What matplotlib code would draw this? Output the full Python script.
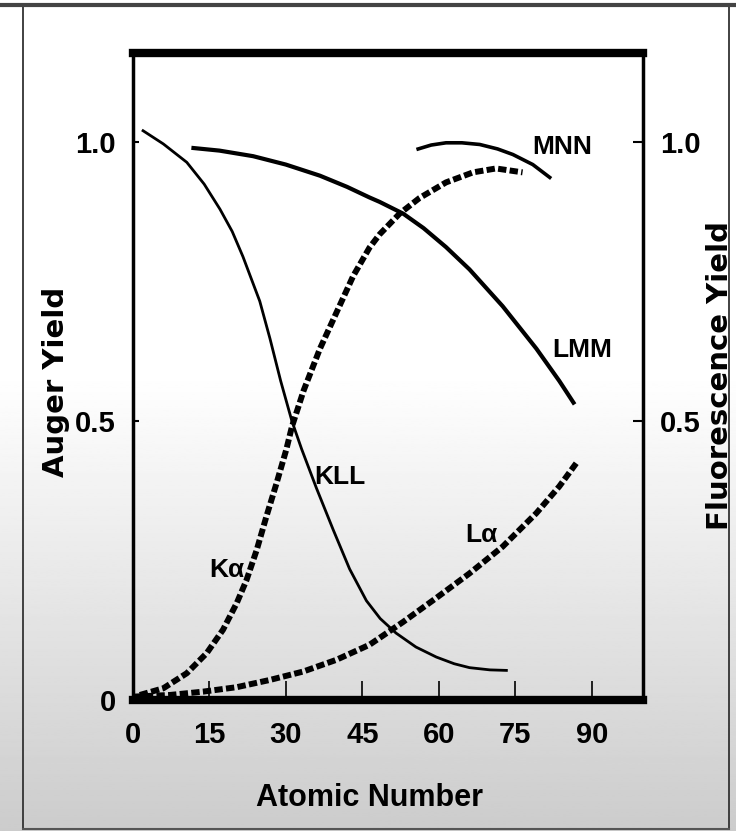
import numpy as np
import matplotlib
matplotlib.use("Agg")
import matplotlib.pyplot as plt
from matplotlib.lines import Line2D

#values, atomic number vs yield
kllX = [1.8, 6, 10.6, 14, 17.1, 19.5, 21.6, 24.9, 26.9, 29, 31.2, 33.1, 36.0, 39.3, 42.5, 45.8, 48.5, 51.6, 55.5, 59.5, 63, 66, 70, 73.5]
kllY = [1.022, 0.997, 0.964, 0.925, 0.880, 0.84, 0.795, 0.715, 0.648, 0.572, 0.50, 0.45, 0.38, 0.305, 0.235, 0.178, 0.146, 0.12, 0.095, 0.077, 0.065, 0.058, 0.054, 0.053]

lmmX = [11.5, 17, 23.6, 30, 36.7, 42, 46.4, 48.4, 53, 57, 61.4, 66, 72.5, 79.1, 83.6, 86.6]
lmmY = [0.990, 0.985, 0.975, 0.96, 0.940, 0.92, 0.901, 0.893, 0.872, 0.846, 0.812, 0.772, 0.706, 0.63, 0.572, 0.530]

mnnX = [55.6, 58.5, 61.4, 64.5, 68, 71.5, 74.5, 78.4, 82]
mnnY = [0.987, 0.995, 0.999, 0.999, 0.996, 0.988, 0.978, 0.960, 0.935]

kaX = [1.4, 6.0, 10.6, 14.5, 17.7, 20.4, 22.3, 24.3, 26.2, 28.2, 30.1, 31.2, 33.5, 36.7, 39.9, 43.2, 46.4, 48.4, 52.3, 56.2, 61.4, 66.7, 71.2, 76.4]
kaY = [0.009, 0.021, 0.048, 0.084, 0.126, 0.174, 0.215, 0.269, 0.329, 0.389, 0.449, 0.49, 0.555, 0.63, 0.694, 0.760, 0.811, 0.835, 0.872, 0.900, 0.928, 0.946, 0.953, 0.946]

laX = [0.1, 7.3, 13.8, 20.4, 26.9, 33.4, 39.9, 46.4, 53, 59.5, 66, 72.5, 79.1, 83.6, 87.2]
laY = [0.006, 0.009, 0.015, 0.023, 0.036, 0.051, 0.072, 0.099, 0.14, 0.183, 0.227, 0.275, 0.335, 0.383, 0.428]

xTicks = [0, 15, 30, 45, 60, 75, 90]
leftTicks = [0, 0.5, 1.0]
leftLabels = ["0", "0.5", "1.0"]
rightTicks = [0.5, 1.0]
rightLabels = ["0.5", "1.0"]

#curve names and where they sit
curveNames = ["MNN", "LMM", "KLL", "K\u03b1", "L\u03b1"]
nameX = [84.1, 88.1, 40.6, 18.5, 68.4]
nameY = [0.991, 0.628, 0.40, 0.233, 0.296]

narrow = ["Liberation Sans Narrow", "Liberation Sans", "DejaVu Sans"]

fig = plt.figure(figsize=(7.36, 8.31), dpi=100)

#gray gradient behind everything
bg = fig.add_axes([0, 0, 1, 1], zorder=-10)
rows = np.linspace(0, 1, 400)
shade = np.where(rows < 0.45, 1.0, 1.0 - (rows - 0.45) / 0.55 * 0.2)
bg.imshow(shade[:, None], aspect="auto", cmap="gray", vmin=0, vmax=1, extent=[0, 1, 0, 1])
bg.axis("off")

#outer frame of the picture
fig.add_artist(Line2D([23/736, 23/736], [1 - 829/831, 1 - 5/831], transform=fig.transFigure, color="#333333", lw=1.3))
fig.add_artist(Line2D([729/736, 729/736], [1 - 829/831, 1 - 5/831], transform=fig.transFigure, color="#333333", lw=1.3))
fig.add_artist(Line2D([23/736, 729/736], [1 - 829/831, 1 - 829/831], transform=fig.transFigure, color="#555555", lw=1.5))
fig.add_artist(Line2D([0, 1], [1 - 5/831, 1 - 5/831], transform=fig.transFigure, color="#444444", lw=3))

ax = fig.add_axes([132.7/736, 1 - 700/831, (643 - 132.7)/736, (700 - 53)/831])
ax.set_facecolor("none")
ax.set_xlim(0, 100)
ax.set_ylim(0, 1.16)

#auger curves are solid
ax.plot(kllX, kllY, color="black", lw=2.0, solid_capstyle="butt")
ax.plot(lmmX, lmmY, color="black", lw=3.0, solid_capstyle="butt")
ax.plot(mnnX, mnnY, color="black", lw=2.6, solid_capstyle="butt")

#fluorescence curves are thick dashes
ax.plot(kaX, kaY, color="black", lw=4.3, dashes=(1.4, 0.55), dash_capstyle="butt")
ax.plot(laX, laY, color="black", lw=4.3, dashes=(1.4, 0.55), dash_capstyle="butt")

for name, tx, ty in zip(curveNames, nameX, nameY):
    ax.text(tx, ty, name, ha="center", va="center", fontsize=19, family=narrow, fontweight="bold", color="black")

#spines, thick top and bottom
ax.spines["top"].set_linewidth(6)
ax.spines["bottom"].set_linewidth(6)
ax.spines["left"].set_linewidth(2.5)
ax.spines["right"].set_linewidth(2.5)

ax.set_xticks(xTicks)
ax.set_xticklabels([str(t) for t in xTicks], fontsize=21, family=narrow, fontweight="bold")
ax.tick_params(axis="x", direction="in", length=14, width=1.2, pad=15)
ax.set_yticks(leftTicks)
ax.set_yticklabels(leftLabels, fontsize=21, family=narrow, fontweight="bold")
ax.tick_params(axis="y", direction="in", length=4, width=1.5, pad=12)

ax.set_xlabel("Atomic Number", fontsize=22, family=narrow, fontweight="bold")
ax.xaxis.set_label_coords(0.465, -0.128)
ax.set_ylabel("Auger Yield", fontsize=21, family="DejaVu Sans", fontweight="bold")
ax.yaxis.set_label_coords(-0.122, 0.491)

#second axis on the right for fluorescence
ax2 = ax.twinx()
ax2.set_ylim(0, 1.16)
for s in ax2.spines.values():
    s.set_visible(False)
ax2.set_yticks(rightTicks)
ax2.set_yticklabels(rightLabels, fontsize=21, family=narrow, fontweight="bold")
ax2.tick_params(axis="y", direction="in", length=7, width=1.5, pad=12)
ax2.set_ylabel("Fluorescence Yield", fontsize=21, family="DejaVu Sans", fontweight="bold")
ax2.yaxis.set_label_coords(1.1235, 0.5015)

fig.savefig("out.png", dpi=100)
